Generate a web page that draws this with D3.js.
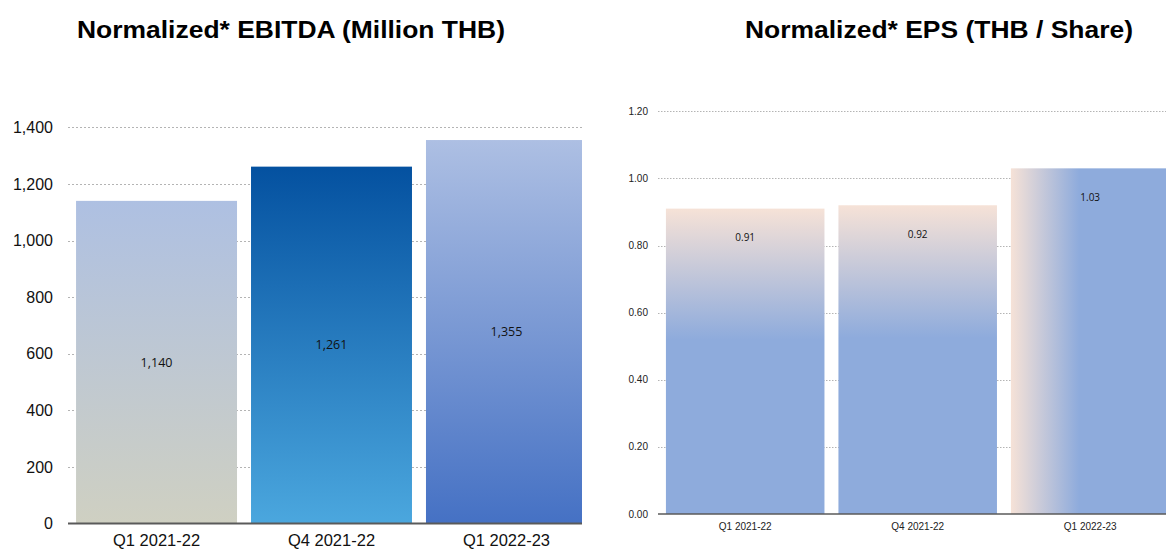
<!DOCTYPE html>
<html>
<head>
<meta charset="utf-8">
<script src="https://cdn.jsdelivr.net/npm/d3@7"></script>
<style>
  html, body { margin: 0; padding: 0; background: #fff; }
  svg { display: block; }
</style>
</head>
<body>
<svg id="chart" width="1166" height="551"></svg>
<script>
// ---- data ----
const categories = ["Q1 2021-22", "Q4 2021-22", "Q1 2022-23"];
const ebitdaValues = [1140, 1261, 1355];
const ebitdaTicks = [0, 200, 400, 600, 800, 1000, 1200, 1400];
const epsValues = [0.91, 0.92, 1.03];
const epsTicks = [0, 0.2, 0.4, 0.6, 0.8, 1.0, 1.2];
const titles = ["Normalized* EBITDA (Million THB)", "Normalized* EPS (THB / Share)"];

// ---- styles ----
const ebitdaGrad = [["#aec0e2", "#cfd0c2"], ["#0451a0", "#4ba7de"], ["#adbfe3", "#4571c4"]];
const peach = "#f6e2d7", eBlue = "#8eabdc";

const svg = d3.select("#chart");
const defs = svg.append("defs");

// ---- titles ----
svg.append("text").attr("x", 291).attr("y", 38).attr("text-anchor", "middle")
  .style("font-family", "'Liberation Sans', Arial, sans-serif").style("font-weight", "bold")
  .style("font-size", "23px").attr("textLength", 428).attr("lengthAdjust", "spacingAndGlyphs")
  .attr("fill", "#000").text(titles[0]);
svg.append("text").attr("x", 939).attr("y", 38).attr("text-anchor", "middle")
  .style("font-family", "'Liberation Sans', Arial, sans-serif").style("font-weight", "bold")
  .style("font-size", "23px").attr("textLength", 388).attr("lengthAdjust", "spacingAndGlyphs")
  .attr("fill", "#000").text(titles[1]);

// ---- left chart ----
(function () {
  const x0 = 68, xEnd = 595, clipRight = 582;
  const y = d3.scaleLinear().domain([0, 1400]).range([523.5, 127.3]);
  const x = d3.scaleBand().domain(categories).range([x0, xEnd]).paddingInner(0.08).paddingOuter(0.046);

  defs.append("clipPath").attr("id", "clipL").append("rect")
    .attr("x", 0).attr("y", 0).attr("width", clipRight).attr("height", 551);

  ebitdaGrad.forEach((c, i) => {
    const g = defs.append("linearGradient").attr("id", "gL" + i)
      .attr("x1", 0).attr("y1", 0).attr("x2", 0).attr("y2", 1);
    g.append("stop").attr("offset", 0).attr("stop-color", c[0]);
    g.append("stop").attr("offset", 1).attr("stop-color", c[1]);
  });

  const g = svg.append("g").attr("clip-path", "url(#clipL)");

  g.selectAll("line.grid").data(ebitdaTicks.filter(d => d > 0)).enter().append("line")
    .attr("x1", x0).attr("x2", clipRight)
    .attr("y1", d => Math.round(y(d)) + 0.5).attr("y2", d => Math.round(y(d)) + 0.5)
    .attr("stroke", "#b4b4b4").attr("stroke-width", 1).attr("stroke-dasharray", "2,2");

  g.selectAll("rect.bar").data(ebitdaValues).enter().append("rect")
    .attr("x", (d, i) => x(categories[i])).attr("width", x.bandwidth())
    .attr("y", d => y(d)).attr("height", d => y(0) - y(d))
    .attr("fill", (d, i) => "url(#gL" + i + ")");

  g.selectAll("text.val").data(ebitdaValues).enter().append("text")
    .attr("x", (d, i) => x(categories[i]) + x.bandwidth() / 2)
    .attr("y", d => (y(d) + y(0)) / 2).attr("dy", "0.35em")
    .attr("text-anchor", "middle")
    .style("font-family", "'Open Sans', 'Noto Sans', sans-serif").style("font-size", "12.5px")
    .attr("fill", "#111").text(d => d3.format(",")(d));

  g.append("line").attr("x1", x0).attr("x2", clipRight).attr("y1", y(0)).attr("y2", y(0))
    .attr("stroke", "#5a5a5a").attr("stroke-width", 2);

  svg.selectAll("text.yl").data(ebitdaTicks).enter().append("text")
    .attr("x", 53).attr("y", d => y(d)).attr("dy", "0.35em").attr("text-anchor", "end")
    .style("font-family", "'Liberation Sans', Arial, sans-serif").style("font-size", "16px")
    .attr("fill", "#111").text(d => d3.format(",")(d));

  svg.selectAll("text.xl").data(categories).enter().append("text")
    .attr("x", d => x(d) + x.bandwidth() / 2).attr("y", 546).attr("text-anchor", "middle")
    .style("font-family", "'Liberation Sans', Arial, sans-serif").style("font-size", "16.5px")
    .attr("fill", "#111").text(d => d);
})();

// ---- right chart ----
(function () {
  const x0 = 658, xEnd = 1177.4;
  const y = d3.scaleLinear().domain([0, 1.2]).range([514, 111.3]);
  const x = d3.scaleBand().domain(categories).range([x0, xEnd]).paddingInner(0.081).paddingOuter(0.046);

  epsValues.forEach((d, i) => {
    const horiz = i === epsValues.length - 1;
    const g = defs.append("linearGradient").attr("id", "gR" + i)
      .attr("x1", 0).attr("y1", 0).attr("x2", horiz ? 1 : 0).attr("y2", horiz ? 0 : 1);
    g.append("stop").attr("offset", 0).attr("stop-color", peach);
    g.append("stop").attr("offset", 0.43).attr("stop-color", eBlue);
    g.append("stop").attr("offset", 1).attr("stop-color", eBlue);
  });

  const g = svg.append("g");

  g.selectAll("line.grid").data(epsTicks.filter(d => d > 0)).enter().append("line")
    .attr("x1", x0).attr("x2", 1166)
    .attr("y1", d => Math.round(y(d)) + 0.5).attr("y2", d => Math.round(y(d)) + 0.5)
    .attr("stroke", "#b4b4b4").attr("stroke-width", 1).attr("stroke-dasharray", "1.5,1.5");

  g.selectAll("rect.bar").data(epsValues).enter().append("rect")
    .attr("x", (d, i) => x(categories[i])).attr("width", x.bandwidth())
    .attr("y", d => y(d)).attr("height", d => y(0) - y(d))
    .attr("fill", (d, i) => "url(#gR" + i + ")");

  g.selectAll("text.val").data(epsValues).enter().append("text")
    .attr("x", (d, i) => x(categories[i]) + x.bandwidth() / 2)
    .attr("y", d => y(d) + 29).attr("dy", "0.35em").attr("text-anchor", "middle")
    .style("font-family", "'Open Sans', 'Noto Sans', sans-serif").style("font-size", "10px")
    .attr("fill", "#111").text(d => d3.format(".2f")(d));

  g.append("line").attr("x1", x0).attr("x2", 1166).attr("y1", y(0)).attr("y2", y(0))
    .attr("stroke", "#5a5a5a").attr("stroke-width", 1.5);

  svg.selectAll("text.yr").data(epsTicks).enter().append("text")
    .attr("x", 648).attr("y", d => y(d)).attr("dy", "0.35em").attr("text-anchor", "end")
    .style("font-family", "'Liberation Sans', Arial, sans-serif").style("font-size", "10px")
    .attr("fill", "#222").text(d => d3.format(".2f")(d));

  svg.selectAll("text.xr").data(categories).enter().append("text")
    .attr("x", d => x(d) + x.bandwidth() / 2).attr("y", 530).attr("text-anchor", "middle")
    .style("font-family", "'Liberation Sans', Arial, sans-serif").style("font-size", "10px")
    .attr("fill", "#222").text(d => d);
})();
</script>
</body>
</html>
